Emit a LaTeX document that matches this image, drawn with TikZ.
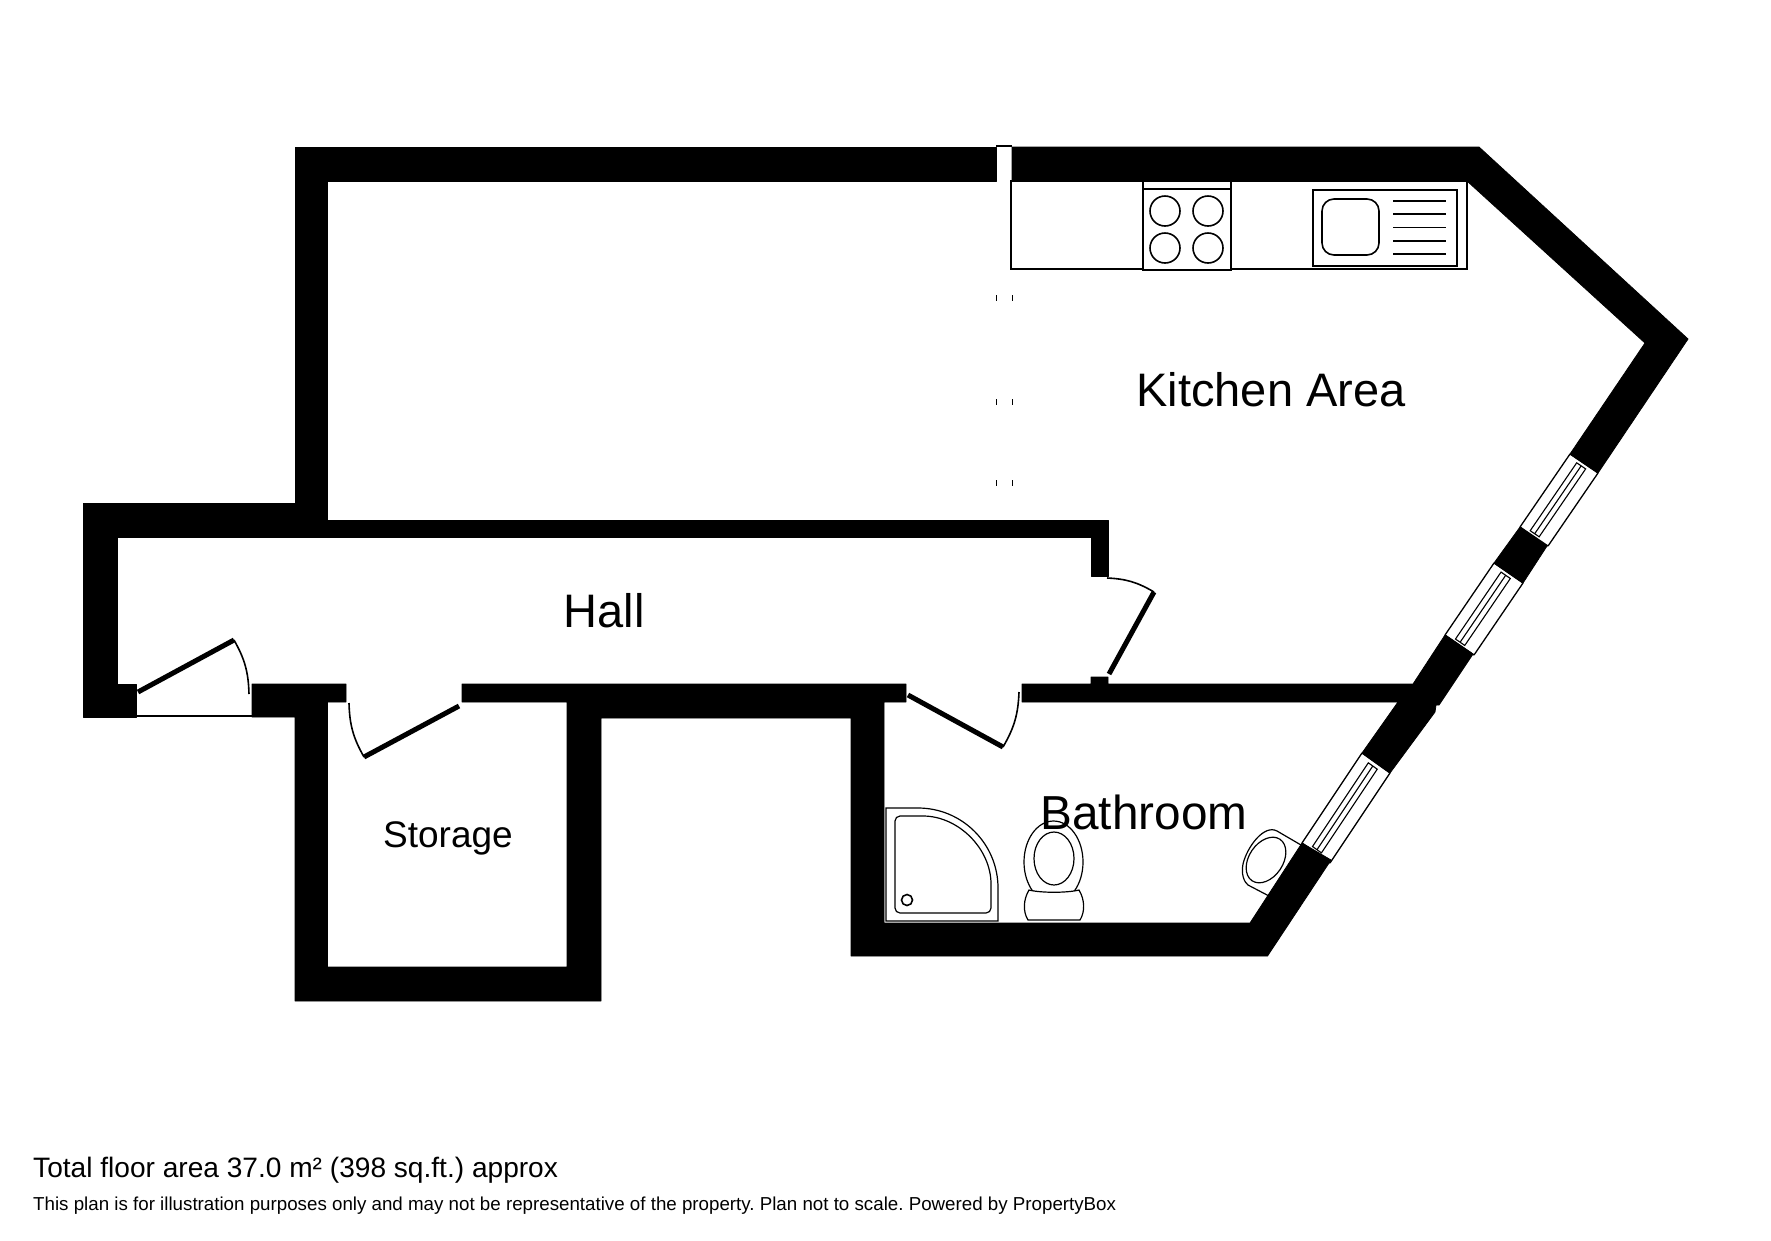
\documentclass[tikz,border=0pt]{standalone}
\usepackage{fontspec}
\setmainfont{Liberation Sans}
\frenchspacing
\newcommand{\winglass}{%
  \draw[winline] (0,0) -- (1,0) (1,1) -- (0,1) (0,0) -- (0,1) (1,0) -- (1,1);
  \draw[winthin] (0.04,0.31) -- (0.97,0.31) -- (0.97,0.63) -- (0.04,0.63) -- cycle (0.04,0.47) -- (0.97,0.47);
}
\tikzset{
  wall/.style={fill=black,draw=black,line width=0.8pt,line join=round},
  fit1/.style={draw=black,line width=1.6pt,fill=white},
  fix1/.style={draw=black,line width=1.2pt},
  leaf/.style={draw=black,line width=5pt},
  swing/.style={draw=black,line width=1.6pt},
  winline/.style={draw=black,line width=1.3pt},
  winthin/.style={draw=black,line width=1.1pt},
  tick/.style={draw=black,line width=1pt},
  room/.style={font=\fontsize{47}{50}\selectfont,inner sep=0pt},
}
\begin{document}
\begin{tikzpicture}[x=1pt,y=-1pt]
\useasboundingbox (0,0) rectangle (1771,1240);
\fill[white] (0,0) rectangle (1771,1240);
% walls
\path[wall] (295,147) -- (996,147) -- (996,181) -- (327.5,181) -- (327.5,520) -- (1108,520) -- (1108,576) -- (1091,576) -- (1091,537) -- (117,537) -- (117,684) -- (136,684) -- (136,717) -- (83,717) -- (83,503) -- (295,503) -- cycle;
\path[wall] (252,684) -- (346,684) -- (346,702) -- (327.5,702) -- (327.5,967) -- (567,967) -- (567,702) -- (462,702) -- (462,684) -- (906,684) -- (906,702) -- (884,702) -- (884,923) -- (1250,923) -- (1302,843) -- (1331,860) -- (1267.5,956) -- (851,956) -- (851,718) -- (601,718) -- (601,1001) -- (295,1001) -- (295,717) -- (252,717) -- cycle;
\path[wall] (1022,684) -- (1091,684) -- (1091,677) -- (1108,677) -- (1108,684) -- (1413,684) -- (1445,635) -- (1473,654) -- (1439,705) -- (1436,705) -- (1435,712) -- (1390,773) -- (1362,753) -- (1398,702) -- (1022,702) -- cycle;
\path[wall] (1520,527) -- (1547,546) -- (1523,583) -- (1494,563) -- cycle;
\path[wall] (1570,454) -- (1645,343) -- (1467,181) -- (1012,181) -- (1012,147) -- (1479,147) -- (1688,339) -- (1598,473) -- cycle;
% opening details
\draw[fix1] (136,716) -- (252,716);
\draw[fix1] (996,146) -- (1012,146);
\foreach \ty in {298,402,483} {
  \draw[tick] (996,\ty-3) -- (996,\ty+3);
  \draw[tick] (1012,\ty-3) -- (1012,\ty+3);
}
% windows
\begin{scope}[shift={(1570,454)},x={(-50pt,-73pt)},y={(28pt,-19pt)}]\winglass\end{scope}
\begin{scope}[shift={(1494,563)},x={(-49pt,-72pt)},y={(29pt,-20pt)}]\winglass\end{scope}
\begin{scope}[shift={(1362,753)},x={(-60pt,-90pt)},y={(28pt,-20pt)}]\winglass\end{scope}
% doors
\draw[leaf] (138,692) -- (234,640);
\draw[swing] (234,640) to[bend left=14] (249,694);
\draw[leaf] (459,706) -- (364,757);
\draw[swing] (364,757) to[bend left=14] (349,703);
\draw[leaf] (1109,674) -- (1154,592);
\draw[swing] (1154,592) to[bend right=14] (1107,578);
\draw[leaf] (908,695) -- (1003,747);
\draw[swing] (1003,747) to[bend right=14] (1019,692);
% kitchen units
\draw[fit1] (1011,181) rectangle (1467,269);
\draw[fit1] (1143,181) rectangle (1231,270);
\draw[fit1] (1143,189) -- (1231,189);
\foreach \cx in {1165,1208} \foreach \cy in {211,248}
  \draw[fit1] (\cx,\cy) circle [radius=15];
\draw[fit1] (1313,190) rectangle (1457,266);
\draw[fit1,rounded corners=12pt] (1322,199) rectangle (1379,255);
\foreach \dy in {201,214,227.5,241,254}
  \draw[fit1] (1393,\dy) -- (1446,\dy);
% shower
\draw[fix1] (886,808) -- (918,808) arc [start angle=90,end angle=0,x radius=80,y radius=-80] -- (998,921) -- (886,921) -- cycle;
\draw[fix1,rounded corners=5pt] (895,816) -- (918,816) arc [start angle=90,end angle=0,x radius=73,y radius=-73] -- (991,913) -- (895,913) -- cycle;
\draw[fit1] (907,900) circle [radius=5.5];
% toilet
\draw[fix1] (1053.5,862) ellipse [x radius=29.5,y radius=41];
\draw[fix1] (1054,858.5) ellipse [x radius=20,y radius=26.5];
\draw[fix1,fill=white] (1029,890) .. controls (1041,893) and (1067,893) .. (1079,890) .. controls (1085,900) and (1085,912) .. (1080,920) -- (1028,920) .. controls (1023,912) and (1023,900) .. (1029,890) -- cycle;
% basin
\draw[fix1] (1301,845) -- (1277,831) .. controls (1264,824) and (1247,847) .. (1243,864) .. controls (1241,874) and (1244,882) .. (1248,885) -- (1269,896);
\begin{scope}[shift={(1266,860)},rotate=56]
\draw[fix1] (0,0) ellipse [x radius=25,y radius=17];
\end{scope}
% labels
\node[room,anchor=center] (kitchen) at (1271,390) {Kitchen Area};
\node[room,anchor=center] (hall) at (604,611) {Hall};
\node[font=\fontsize{47.7}{50}\selectfont,inner sep=0pt,anchor=center] (bath) at (1144,812.5) {Bathroom};
\node[font=\fontsize{37}{40}\selectfont,inner sep=0pt,anchor=center] (storage) at (448,838.5) {Storage};
\node[font=\fontsize{28.1}{30}\selectfont,inner sep=0pt,anchor=base west] (area) at (33,1177) {Total floor area 37.0 m² (398 sq.ft.) approx};
\node[font=\fontsize{18.74}{24}\selectfont,inner sep=0pt,anchor=base west] (note) at (33,1210.5) {This plan is for illustration purposes only and may not be representative of the property. Plan not to scale. Powered by PropertyBox};
\end{tikzpicture}
\end{document}
